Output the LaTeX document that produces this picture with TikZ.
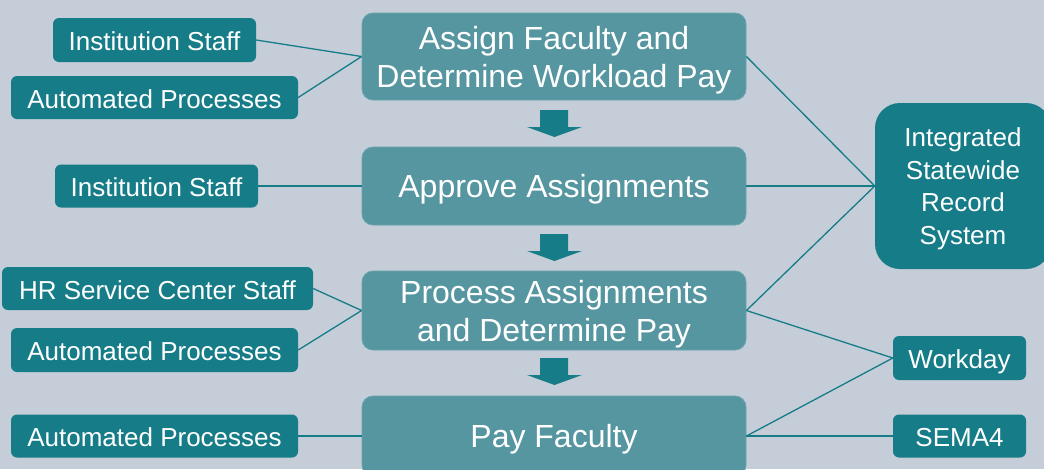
\documentclass[tikz,border=0pt]{standalone}
\usepackage{fontspec}
\setmainfont{Liberation Sans}
\definecolor{bgc}{HTML}{C5CED8}
\definecolor{dteal}{HTML}{157C88}
\definecolor{lteal}{HTML}{5596A1}
\definecolor{lborder}{HTML}{6AA3AD}
\tikzset{
  actor/.style={fill=dteal, text=white, rounded corners=6pt, inner sep=0pt,
    text height=21pt, text depth=0pt, font=\fontsize{26}{31}\selectfont},
  stepbox/.style={fill=lteal, draw=lborder, line width=0.8pt, text=white, rounded corners=11pt,
    inner sep=0pt, minimum width=384pt, align=center, text depth=0pt,
    font=\fontsize{32}{38}\selectfont},
  link/.style={draw=dteal, line width=1.3pt},
  blockarrow/.style={fill=dteal, draw=none}
}
\begin{document}
\begin{tikzpicture}[x=1pt,y=-1pt]
\useasboundingbox (0,0) rectangle (1044,469);
\fill[bgc] (0,0) rectangle (1044,469);
\clip (0,0) rectangle (1044,469);
% main steps
\node[stepbox, minimum height=87pt] (s1) at (554,56.5) {Assign Faculty and\\Determine Workload Pay};
\node[stepbox, minimum height=78pt] (s2) at (554,186) {Approve Assignments};
\node[stepbox, minimum height=79pt] (s3) at (554,310.5) {Process Assignments\\and Determine Pay};
\node[stepbox, minimum height=80pt] (s4) at (554,436) {Pay Faculty};
% actors left
\node[actor, minimum width=203pt, minimum height=44pt] (a1) at (154.5,40) {Institution Staff};
\node[actor, minimum width=287pt, minimum height=43pt] (a2) at (154.5,97.5) {Automated Processes};
\node[actor, minimum width=203pt, minimum height=43pt] (a3) at (156.5,186) {Institution Staff};
\node[actor, minimum width=311pt, minimum height=43pt] (a4) at (157.5,288.5) {HR Service Center Staff};
\node[actor, minimum width=287pt, minimum height=44pt] (a5) at (154.5,350) {Automated Processes};
\node[actor, minimum width=287pt, minimum height=43pt] (a6) at (154.5,436) {Automated Processes};
% systems right
\node[fill=dteal, text=white, inner sep=0pt, rounded corners=25pt, minimum width=176pt,
  minimum height=166pt, align=center, text depth=0pt,
  font=\fontsize{26}{32.5}\selectfont] (isrs) at (963,186)
  {Integrated\\Statewide\\Record\\System};
\node[actor, minimum width=133pt, minimum height=44pt] (wd) at (959.5,358) {Workday};
\node[actor, minimum width=133pt, minimum height=43pt] (sema) at (959.5,436) {SEMA4};
% connectors
\draw[link] (a1.east) -- (s1.west);
\draw[link] (a2.east) -- (s1.west);
\draw[link] (a3.east) -- (s2.west);
\draw[link] (a4.east) -- (s3.west);
\draw[link] (a5.east) -- (s3.west);
\draw[link] (a6.east) -- (s4.west);
\draw[link] (s1.east) -- (isrs.west);
\draw[link] (s2.east) -- (isrs.west);
\draw[link] (s3.east) -- (isrs.west);
\draw[link] (s3.east) -- (wd.west);
\draw[link] (s4.east) -- (wd.west);
\draw[link] (s4.east) -- (sema.west);
% block arrows between steps
\foreach \y in {110,234,358}{
  \fill[blockarrow] (540,\y) -- (568,\y) -- (568,\y+17) -- (582,\y+17) -- (554.5,\y+27) -- (527,\y+17) -- (540,\y+17) -- cycle;
}
\end{tikzpicture}
\end{document}
